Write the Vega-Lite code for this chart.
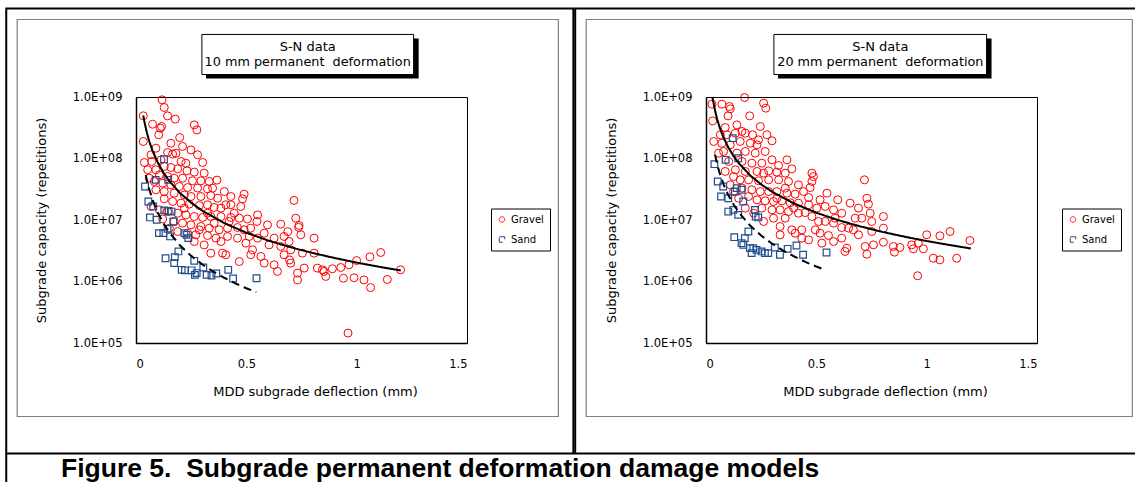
{
"$schema":"https://vega.github.io/schema/vega-lite/v6.json",
"padding":{"left":4,"top":6,"right":0,"bottom":0},
"spacing":-2,
"config":{"font":"DejaVu Sans","view":{"stroke":"black","strokeWidth":1},
"axis":{"labelFont":"DejaVu Sans","labelFontSize":11.5,"labelColor":"black","titleFont":"DejaVu Sans","titleFontSize":13,"titleFontWeight":"normal","titleColor":"black","ticks":false,"tickSize":0,"domainColor":"black","domainWidth":1.5,"gridColor":"#808080","gridDash":[3,2],"gridWidth":1},
"axisX":{"labelPadding":15,"titlePadding":16},
"axisY":{"labelPadding":14,"titlePadding":24},
"legend":{"title":null,"fillColor":"white","strokeColor":"black","padding":6,"labelFont":"DejaVu Sans","labelFontSize":10,"labelColor":"black","symbolSize":30,"symbolStrokeWidth":1,"rowPadding":10,"labelOffset":4}},
"title":{"text":"Figure 5.\u00a0 Subgrade permanent deformation damage models","orient":"bottom","anchor":"start","frame":"group","font":"Liberation Sans","fontSize":26.5,"fontWeight":"bold","color":"black","offset":-8,"baseline":"alphabetic","dx":-75},
"resolve":{"scale":{"color":"independent","shape":"independent","strokeDash":"independent"},"legend":{"color":"independent","shape":"independent","strokeDash":"independent"}},
"datasets":{
"p10":[
{"soil":"Gravel","deflection":0.118,"capacity":9.0e8},{"soil":"Gravel","deflection":0.128,"capacity":6.75e8},{"soil":"Gravel","deflection":0.143,"capacity":4.94e8},{"soil":"Gravel","deflection":0.178,"capacity":4.37e8},{"soil":"Gravel","deflection":0.033,"capacity":4.94e8},{"soil":"Gravel","deflection":0.075,"capacity":3.61e8},{"soil":"Gravel","deflection":0.110,"capacity":3.11e8},{"soil":"Gravel","deflection":0.116,"capacity":3.31e8},{"soil":"Gravel","deflection":0.103,"capacity":2.43e8},{"soil":"Gravel","deflection":0.264,"capacity":3.52e8},
{"soil":"Gravel","deflection":0.276,"capacity":2.92e8},{"soil":"Gravel","deflection":0.198,"capacity":2.19e8},{"soil":"Gravel","deflection":0.033,"capacity":1.89e8},{"soil":"Gravel","deflection":0.090,"capacity":1.47e8},{"soil":"Gravel","deflection":0.249,"capacity":1.38e8},{"soil":"Gravel","deflection":0.181,"capacity":1.22e8},{"soil":"Gravel","deflection":0.166,"capacity":1.18e8},{"soil":"Gravel","deflection":0.143,"capacity":1.25e8},{"soil":"Gravel","deflection":0.279,"capacity":1.15e8},{"soil":"Gravel","deflection":0.068,"capacity":1.15e8},
{"soil":"Gravel","deflection":0.038,"capacity":8.61e7},{"soil":"Gravel","deflection":0.071,"capacity":8.94e7},{"soil":"Gravel","deflection":0.204,"capacity":8.94e7},{"soil":"Gravel","deflection":0.226,"capacity":8.39e7},{"soil":"Gravel","deflection":0.302,"capacity":8.61e7},{"soil":"Gravel","deflection":0.128,"capacity":7.41e7},{"soil":"Gravel","deflection":0.158,"capacity":7.14e7},{"soil":"Gravel","deflection":0.189,"capacity":6.79e7},{"soil":"Gravel","deflection":0.231,"capacity":6.30e7},{"soil":"Gravel","deflection":0.264,"capacity":6.00e7},
{"soil":"Gravel","deflection":0.090,"capacity":6.55e7},{"soil":"Gravel","deflection":0.106,"capacity":5.42e7},{"soil":"Gravel","deflection":0.143,"capacity":5.09e7},{"soil":"Gravel","deflection":0.173,"capacity":4.79e7},{"soil":"Gravel","deflection":0.211,"capacity":4.79e7},{"soil":"Gravel","deflection":0.256,"capacity":4.34e7},{"soil":"Gravel","deflection":0.294,"capacity":4.34e7},{"soil":"Gravel","deflection":0.367,"capacity":4.45e7},{"soil":"Gravel","deflection":0.083,"capacity":4.23e7},{"soil":"Gravel","deflection":0.121,"capacity":3.97e7},
{"soil":"Gravel","deflection":0.158,"capacity":3.73e7},{"soil":"Gravel","deflection":0.196,"capacity":3.51e7},{"soil":"Gravel","deflection":0.234,"capacity":3.37e7},{"soil":"Gravel","deflection":0.279,"capacity":3.30e7},{"soil":"Gravel","deflection":0.324,"capacity":3.21e7},{"soil":"Gravel","deflection":0.090,"capacity":3.10e7},{"soil":"Gravel","deflection":0.128,"capacity":2.90e7},{"soil":"Gravel","deflection":0.173,"capacity":2.73e7},{"soil":"Gravel","deflection":0.219,"capacity":2.56e7},{"soil":"Gravel","deflection":0.249,"capacity":2.41e7},
{"soil":"Gravel","deflection":0.294,"capacity":2.41e7},{"soil":"Gravel","deflection":0.339,"capacity":2.50e7},{"soil":"Gravel","deflection":0.370,"capacity":2.26e7},{"soil":"Gravel","deflection":0.407,"capacity":1.77e7},{"soil":"Gravel","deflection":0.430,"capacity":1.77e7},{"soil":"Gravel","deflection":0.490,"capacity":2.63e7},{"soil":"Gravel","deflection":0.483,"capacity":2.21e7},{"soil":"Gravel","deflection":0.475,"capacity":1.66e7},{"soil":"Gravel","deflection":0.128,"capacity":2.21e7},{"soil":"Gravel","deflection":0.166,"capacity":2.00e7},
{"soil":"Gravel","deflection":0.204,"capacity":1.88e7},{"soil":"Gravel","deflection":0.241,"capacity":1.81e7},{"soil":"Gravel","deflection":0.287,"capacity":1.72e7},{"soil":"Gravel","deflection":0.324,"capacity":1.77e7},{"soil":"Gravel","deflection":0.354,"capacity":1.60e7},{"soil":"Gravel","deflection":0.385,"capacity":1.56e7},{"soil":"Gravel","deflection":0.716,"capacity":2.08e7},{"soil":"Gravel","deflection":0.068,"capacity":1.66e7},{"soil":"Gravel","deflection":0.106,"capacity":1.46e7},{"soil":"Gravel","deflection":0.143,"capacity":1.37e7},
{"soil":"Gravel","deflection":0.189,"capacity":1.29e7},{"soil":"Gravel","deflection":0.226,"capacity":1.21e7},{"soil":"Gravel","deflection":0.264,"capacity":1.14e7},{"soil":"Gravel","deflection":0.302,"capacity":1.10e7},{"soil":"Gravel","deflection":0.339,"capacity":1.14e7},{"soil":"Gravel","deflection":0.385,"capacity":1.14e7},{"soil":"Gravel","deflection":0.430,"capacity":1.10e7},{"soil":"Gravel","deflection":0.468,"capacity":1.07e7},{"soil":"Gravel","deflection":0.505,"capacity":1.04e7},{"soil":"Gravel","deflection":0.551,"capacity":1.21e7},
{"soil":"Gravel","deflection":0.548,"capacity":9.46e6},{"soil":"Gravel","deflection":0.596,"capacity":8.34e6},{"soil":"Gravel","deflection":0.656,"capacity":8.55e6},{"soil":"Gravel","deflection":0.724,"capacity":1.07e7},{"soil":"Gravel","deflection":0.739,"capacity":8.15e6},{"soil":"Gravel","deflection":0.747,"capacity":5.74e6},{"soil":"Gravel","deflection":0.807,"capacity":5.07e6},{"soil":"Gravel","deflection":0.173,"capacity":9.46e6},{"soil":"Gravel","deflection":0.211,"capacity":8.89e6},{"soil":"Gravel","deflection":0.249,"capacity":8.34e6},
{"soil":"Gravel","deflection":0.294,"capacity":7.84e6},{"soil":"Gravel","deflection":0.332,"capacity":7.36e6},{"soil":"Gravel","deflection":0.377,"capacity":6.92e6},{"soil":"Gravel","deflection":0.415,"capacity":7.36e6},{"soil":"Gravel","deflection":0.460,"capacity":7.55e6},{"soil":"Gravel","deflection":0.490,"capacity":6.92e6},{"soil":"Gravel","deflection":0.520,"capacity":7.36e6},{"soil":"Gravel","deflection":0.581,"capacity":6.11e6},{"soil":"Gravel","deflection":0.626,"capacity":5.07e6},{"soil":"Gravel","deflection":0.671,"capacity":5.40e6},
{"soil":"Gravel","deflection":0.694,"capacity":4.47e6},{"soil":"Gravel","deflection":0.189,"capacity":6.50e6},{"soil":"Gravel","deflection":0.234,"capacity":6.11e6},{"soil":"Gravel","deflection":0.271,"capacity":5.74e6},{"soil":"Gravel","deflection":0.324,"capacity":5.60e6},{"soil":"Gravel","deflection":0.362,"capacity":5.07e6},{"soil":"Gravel","deflection":0.415,"capacity":5.40e6},{"soil":"Gravel","deflection":0.460,"capacity":5.07e6},{"soil":"Gravel","deflection":0.513,"capacity":5.40e6},{"soil":"Gravel","deflection":0.551,"capacity":5.07e6},
{"soil":"Gravel","deflection":0.603,"capacity":3.94e6},{"soil":"Gravel","deflection":0.656,"capacity":3.71e6},{"soil":"Gravel","deflection":0.701,"capacity":3.27e6},{"soil":"Gravel","deflection":0.754,"capacity":2.89e6},{"soil":"Gravel","deflection":0.807,"capacity":2.89e6},{"soil":"Gravel","deflection":0.852,"capacity":1.46e6},{"soil":"Gravel","deflection":0.309,"capacity":3.94e6},{"soil":"Gravel","deflection":0.339,"capacity":2.89e6},{"soil":"Gravel","deflection":0.392,"capacity":2.89e6},{"soil":"Gravel","deflection":0.407,"capacity":2.72e6},
{"soil":"Gravel","deflection":0.468,"capacity":2.11e6},{"soil":"Gravel","deflection":0.528,"capacity":3.27e6},{"soil":"Gravel","deflection":0.566,"capacity":2.55e6},{"soil":"Gravel","deflection":0.581,"capacity":1.99e6},{"soil":"Gravel","deflection":0.626,"capacity":1.87e6},{"soil":"Gravel","deflection":0.641,"capacity":1.46e6},{"soil":"Gravel","deflection":0.701,"capacity":1.99e6},{"soil":"Gravel","deflection":0.732,"capacity":1.37e6},{"soil":"Gravel","deflection":0.762,"capacity":1.65e6},{"soil":"Gravel","deflection":0.822,"capacity":1.65e6},
{"soil":"Gravel","deflection":0.860,"capacity":1.21e6},{"soil":"Gravel","deflection":0.732,"capacity":1.06e6},{"soil":"Gravel","deflection":0.890,"capacity":1.61e6},{"soil":"Gravel","deflection":0.928,"capacity":1.69e6},{"soil":"Gravel","deflection":0.965,"capacity":1.87e6},{"soil":"Gravel","deflection":1.000,"capacity":2.19e6},{"soil":"Gravel","deflection":1.060,"capacity":2.52e6},{"soil":"Gravel","deflection":1.109,"capacity":2.96e6},{"soil":"Gravel","deflection":1.199,"capacity":1.55e6},{"soil":"Gravel","deflection":0.940,"capacity":1.13e6},
{"soil":"Gravel","deflection":0.988,"capacity":1.15e6},{"soil":"Gravel","deflection":1.033,"capacity":1.06e6},{"soil":"Gravel","deflection":1.063,"capacity":7.96e5},{"soil":"Gravel","deflection":1.139,"capacity":1.08e6},{"soil":"Gravel","deflection":0.961,"capacity":1.45e5},{"soil":"Gravel","deflection":0.053,"capacity":6.55e7},{"soil":"Gravel","deflection":0.332,"capacity":4.23e7},{"soil":"Gravel","deflection":0.309,"capacity":5.78e7},{"soil":"Gravel","deflection":0.347,"capacity":3.30e7},{"soil":"Gravel","deflection":0.400,"capacity":2.90e7},
{"soil":"Gravel","deflection":0.430,"capacity":2.41e7},{"soil":"Gravel","deflection":0.445,"capacity":1.29e7},{"soil":"Gravel","deflection":0.151,"capacity":7.36e6},{"soil":"Gravel","deflection":0.354,"capacity":8.89e6},{"soil":"Gravel","deflection":0.287,"capacity":6.92e6},{"soil":"Gravel","deflection":0.264,"capacity":4.47e6},{"soil":"Gravel","deflection":0.385,"capacity":4.47e6},{"soil":"Gravel","deflection":0.498,"capacity":4.20e6},{"soil":"Gravel","deflection":0.520,"capacity":2.72e6},{"soil":"Gravel","deflection":0.671,"capacity":2.72e6},
{"soil":"Gravel","deflection":0.121,"capacity":1.04e7},{"soil":"Gravel","deflection":0.219,"capacity":1.56e7},{"soil":"Gravel","deflection":0.158,"capacity":1.77e8},{"soil":"Gravel","deflection":0.211,"capacity":1.57e8},{"soil":"Gravel","deflection":0.113,"capacity":9.5e7},{"soil":"Gravel","deflection":0.060,"capacity":4.79e7},{"soil":"Gravel","deflection":0.324,"capacity":1.29e7},{"soil":"Gravel","deflection":0.422,"capacity":9.46e6},{"soil":"Gravel","deflection":0.845,"capacity":1.55e6},{"soil":"Gravel","deflection":0.696,"capacity":2.24e6},
{"soil":"Gravel","deflection":0.737,"capacity":7.6e6},{"soil":"Gravel","deflection":0.688,"capacity":6.46e6},
{"soil":"Sand","deflection":0.127,"capacity":9.75e7},{"soil":"Sand","deflection":0.089,"capacity":4.50e7},{"soil":"Sand","deflection":0.146,"capacity":4.50e7},{"soil":"Sand","deflection":0.041,"capacity":3.51e7},{"soil":"Sand","deflection":0.056,"capacity":2.00e7},{"soil":"Sand","deflection":0.078,"capacity":1.66e7},{"soil":"Sand","deflection":0.128,"capacity":1.43e7},{"soil":"Sand","deflection":0.161,"capacity":1.37e7},{"soil":"Sand","deflection":0.169,"capacity":9.46e6},{"soil":"Sand","deflection":0.063,"capacity":1.10e7},
{"soil":"Sand","deflection":0.094,"capacity":1.01e7},{"soil":"Sand","deflection":0.104,"capacity":6.11e6},{"soil":"Sand","deflection":0.143,"capacity":7.18e6},{"soil":"Sand","deflection":0.124,"capacity":6.11e6},{"soil":"Sand","deflection":0.154,"capacity":5.40e6},{"soil":"Sand","deflection":0.229,"capacity":5.74e6},{"soil":"Sand","deflection":0.237,"capacity":5.07e6},{"soil":"Sand","deflection":0.219,"capacity":6.11e6},{"soil":"Sand","deflection":0.134,"capacity":2.39e6},{"soil":"Sand","deflection":0.176,"capacity":2.49e6},
{"soil":"Sand","deflection":0.192,"capacity":3.08e6},{"soil":"Sand","deflection":0.173,"capacity":1.99e6},{"soil":"Sand","deflection":0.264,"capacity":2.17e6},{"soil":"Sand","deflection":0.207,"capacity":1.55e6},{"soil":"Sand","deflection":0.222,"capacity":1.52e6},{"soil":"Sand","deflection":0.252,"capacity":1.52e6},{"soil":"Sand","deflection":0.275,"capacity":1.37e6},{"soil":"Sand","deflection":0.305,"capacity":1.69e6},{"soil":"Sand","deflection":0.320,"capacity":1.28e6},{"soil":"Sand","deflection":0.267,"capacity":1.28e6},
{"soil":"Sand","deflection":0.342,"capacity":1.25e6},{"soil":"Sand","deflection":0.418,"capacity":1.55e6},{"soil":"Sand","deflection":0.546,"capacity":1.13e6},{"soil":"Sand","deflection":0.440,"capacity":1.12e6},{"soil":"Sand","deflection":0.364,"capacity":1.35e6},{"soil":"Sand","deflection":0.148,"capacity":1.40e7}
],
"t10":[
{"soil":"Gravel","deflection":0.033,"capacity":5.0e8},{"soil":"Gravel","deflection":0.04,"capacity":3.68e8},{"soil":"Gravel","deflection":0.05,"capacity":2.57e8},{"soil":"Gravel","deflection":0.06,"capacity":1.91e8},{"soil":"Gravel","deflection":0.075,"capacity":1.33e8},{"soil":"Gravel","deflection":0.1,"capacity":8.38e7},{"soil":"Gravel","deflection":0.125,"capacity":5.84e7},{"soil":"Gravel","deflection":0.15,"capacity":4.35e7},{"soil":"Gravel","deflection":0.2,"capacity":2.73e7},{"soil":"Gravel","deflection":0.25,"capacity":1.91e7},{"soil":"Gravel","deflection":0.3,"capacity":1.42e7},{"soil":"Gravel","deflection":0.4,"capacity":8.91e6},{"soil":"Gravel","deflection":0.5,"capacity":6.21e6},{"soil":"Gravel","deflection":0.6,"capacity":4.63e6},{"soil":"Gravel","deflection":0.7,"capacity":3.61e6},{"soil":"Gravel","deflection":0.8,"capacity":2.91e6},{"soil":"Gravel","deflection":0.9,"capacity":2.41e6},{"soil":"Gravel","deflection":1.0,"capacity":2.03e6},{"soil":"Gravel","deflection":1.1,"capacity":1.74e6},{"soil":"Gravel","deflection":1.2,"capacity":1.51e6},
{"soil":"Sand","deflection":0.044,"capacity":5.4e7},{"soil":"Sand","deflection":0.05,"capacity":4.35e7},{"soil":"Sand","deflection":0.06,"capacity":3.16e7},{"soil":"Sand","deflection":0.08,"capacity":1.91e7},{"soil":"Sand","deflection":0.1,"capacity":1.29e7},{"soil":"Sand","deflection":0.125,"capacity":8.77e6},{"soil":"Sand","deflection":0.15,"capacity":6.37e6},{"soil":"Sand","deflection":0.2,"capacity":3.85e6},{"soil":"Sand","deflection":0.25,"capacity":2.61e6},{"soil":"Sand","deflection":0.3,"capacity":1.90e6},{"soil":"Sand","deflection":0.35,"capacity":1.45e6},{"soil":"Sand","deflection":0.4,"capacity":1.15e6},{"soil":"Sand","deflection":0.45,"capacity":9.35e5},{"soil":"Sand","deflection":0.5,"capacity":7.78e5},{"soil":"Sand","deflection":0.545,"capacity":6.7e5}
],
"p20":[
{"soil":"Gravel","deflection":0.175,"capacity":9.8e8},{"soil":"Gravel","deflection":0.027,"capacity":7.64e8},{"soil":"Gravel","deflection":0.072,"capacity":7.64e8},{"soil":"Gravel","deflection":0.106,"capacity":7.01e8},{"soil":"Gravel","deflection":0.110,"capacity":6.42e8},{"soil":"Gravel","deflection":0.261,"capacity":7.94e8},{"soil":"Gravel","deflection":0.271,"capacity":6.58e8},{"soil":"Gravel","deflection":0.100,"capacity":4.94e8},{"soil":"Gravel","deflection":0.198,"capacity":4.94e8},{"soil":"Gravel","deflection":0.030,"capacity":4.09e8},
{"soil":"Gravel","deflection":0.087,"capacity":3.19e8},{"soil":"Gravel","deflection":0.246,"capacity":3.31e8},{"soil":"Gravel","deflection":0.065,"capacity":2.43e8},{"soil":"Gravel","deflection":0.133,"capacity":2.58e8},{"soil":"Gravel","deflection":0.163,"capacity":2.75e8},{"soil":"Gravel","deflection":0.178,"capacity":2.58e8},{"soil":"Gravel","deflection":0.211,"capacity":2.43e8},{"soil":"Gravel","deflection":0.238,"capacity":2.01e8},{"soil":"Gravel","deflection":0.276,"capacity":2.43e8},{"soil":"Gravel","deflection":0.299,"capacity":1.94e8},
{"soil":"Gravel","deflection":0.035,"capacity":1.89e8},{"soil":"Gravel","deflection":0.072,"capacity":1.77e8},{"soil":"Gravel","deflection":0.110,"capacity":1.67e8},{"soil":"Gravel","deflection":0.155,"capacity":1.89e8},{"soil":"Gravel","deflection":0.201,"capacity":1.77e8},{"soil":"Gravel","deflection":0.231,"capacity":1.67e8},{"soil":"Gravel","deflection":0.268,"capacity":1.30e8},{"soil":"Gravel","deflection":0.178,"capacity":1.30e8},{"soil":"Gravel","deflection":0.223,"capacity":1.22e8},{"soil":"Gravel","deflection":0.080,"capacity":1.30e8},
{"soil":"Gravel","deflection":0.140,"capacity":1.22e8},{"soil":"Gravel","deflection":0.299,"capacity":9.51e7},{"soil":"Gravel","deflection":0.367,"capacity":9.51e7},{"soil":"Gravel","deflection":0.103,"capacity":8.94e7},{"soil":"Gravel","deflection":0.163,"capacity":8.94e7},{"soil":"Gravel","deflection":0.208,"capacity":8.39e7},{"soil":"Gravel","deflection":0.253,"capacity":8.39e7},{"soil":"Gravel","deflection":0.329,"capacity":7.69e7},{"soil":"Gravel","deflection":0.389,"capacity":6.79e7},{"soil":"Gravel","deflection":0.133,"capacity":6.55e7},
{"soil":"Gravel","deflection":0.178,"capacity":6.15e7},{"soil":"Gravel","deflection":0.231,"capacity":6.15e7},{"soil":"Gravel","deflection":0.284,"capacity":6.30e7},{"soil":"Gravel","deflection":0.321,"capacity":6.00e7},{"soil":"Gravel","deflection":0.359,"capacity":5.78e7},{"soil":"Gravel","deflection":0.087,"capacity":6.15e7},{"soil":"Gravel","deflection":0.125,"capacity":5.09e7},{"soil":"Gravel","deflection":0.155,"capacity":4.50e7},{"soil":"Gravel","deflection":0.193,"capacity":4.50e7},{"soil":"Gravel","deflection":0.238,"capacity":4.34e7},
{"soil":"Gravel","deflection":0.284,"capacity":4.50e7},{"soil":"Gravel","deflection":0.329,"capacity":4.50e7},{"soil":"Gravel","deflection":0.374,"capacity":4.23e7},{"soil":"Gravel","deflection":0.419,"capacity":3.73e7},{"soil":"Gravel","deflection":0.480,"capacity":5.78e7},{"soil":"Gravel","deflection":0.487,"capacity":5.09e7},{"soil":"Gravel","deflection":0.480,"capacity":4.23e7},{"soil":"Gravel","deflection":0.472,"capacity":3.37e7},{"soil":"Gravel","deflection":0.110,"capacity":3.73e7},{"soil":"Gravel","deflection":0.163,"capacity":3.30e7},
{"soil":"Gravel","deflection":0.208,"capacity":3.10e7},{"soil":"Gravel","deflection":0.246,"capacity":2.90e7},{"soil":"Gravel","deflection":0.284,"capacity":2.90e7},{"soil":"Gravel","deflection":0.321,"capacity":2.90e7},{"soil":"Gravel","deflection":0.367,"capacity":2.73e7},{"soil":"Gravel","deflection":0.404,"capacity":2.63e7},{"soil":"Gravel","deflection":0.442,"capacity":2.90e7},{"soil":"Gravel","deflection":0.465,"capacity":2.32e7},{"soil":"Gravel","deflection":0.517,"capacity":2.13e7},{"soil":"Gravel","deflection":0.548,"capacity":2.73e7},
{"soil":"Gravel","deflection":0.597,"capacity":2.13e7},{"soil":"Gravel","deflection":0.653,"capacity":1.88e7},{"soil":"Gravel","deflection":0.691,"capacity":1.56e7},{"soil":"Gravel","deflection":0.718,"capacity":4.50e7},{"soil":"Gravel","deflection":0.729,"capacity":2.26e7},{"soil":"Gravel","deflection":0.736,"capacity":1.81e7},{"soil":"Gravel","deflection":0.744,"capacity":1.29e7},{"soil":"Gravel","deflection":0.804,"capacity":1.14e7},{"soil":"Gravel","deflection":0.193,"capacity":2.41e7},{"soil":"Gravel","deflection":0.231,"capacity":2.13e7},
{"soil":"Gravel","deflection":0.268,"capacity":2.05e7},{"soil":"Gravel","deflection":0.306,"capacity":2.00e7},{"soil":"Gravel","deflection":0.344,"capacity":2.05e7},{"soil":"Gravel","deflection":0.382,"capacity":1.90e7},{"soil":"Gravel","deflection":0.419,"capacity":1.88e7},{"soil":"Gravel","deflection":0.465,"capacity":1.77e7},{"soil":"Gravel","deflection":0.502,"capacity":1.56e7},{"soil":"Gravel","deflection":0.540,"capacity":1.66e7},{"soil":"Gravel","deflection":0.578,"capacity":1.46e7},{"soil":"Gravel","deflection":0.615,"capacity":1.29e7},
{"soil":"Gravel","deflection":0.676,"capacity":1.07e7},{"soil":"Gravel","deflection":0.706,"capacity":1.07e7},{"soil":"Gravel","deflection":0.751,"capacity":9.46e6},{"soil":"Gravel","deflection":0.804,"capacity":7.36e6},{"soil":"Gravel","deflection":0.253,"capacity":1.56e7},{"soil":"Gravel","deflection":0.299,"capacity":1.46e7},{"soil":"Gravel","deflection":0.336,"capacity":1.46e7},{"soil":"Gravel","deflection":0.374,"capacity":1.37e7},{"soil":"Gravel","deflection":0.419,"capacity":1.29e7},{"soil":"Gravel","deflection":0.449,"capacity":1.32e7},
{"soil":"Gravel","deflection":0.480,"capacity":1.14e7},{"soil":"Gravel","deflection":0.510,"capacity":9.46e6},{"soil":"Gravel","deflection":0.540,"capacity":9.46e6},{"soil":"Gravel","deflection":0.578,"capacity":8.89e6},{"soil":"Gravel","deflection":0.615,"capacity":7.55e6},{"soil":"Gravel","deflection":0.646,"capacity":7.36e6},{"soil":"Gravel","deflection":0.691,"capacity":5.74e6},{"soil":"Gravel","deflection":0.721,"capacity":3.71e6},{"soil":"Gravel","deflection":0.759,"capacity":3.94e6},{"soil":"Gravel","deflection":0.804,"capacity":4.36e6},
{"soil":"Gravel","deflection":0.849,"capacity":3.71e6},{"soil":"Gravel","deflection":0.854,"capacity":3.00e6},{"soil":"Gravel","deflection":0.879,"capacity":3.57e6},{"soil":"Gravel","deflection":0.261,"capacity":9.46e6},{"soil":"Gravel","deflection":0.336,"capacity":7.84e6},{"soil":"Gravel","deflection":0.359,"capacity":1.07e7},{"soil":"Gravel","deflection":0.389,"capacity":6.92e6},{"soil":"Gravel","deflection":0.404,"capacity":6.11e6},{"soil":"Gravel","deflection":0.434,"capacity":6.92e6},{"soil":"Gravel","deflection":0.465,"capacity":4.76e6},
{"soil":"Gravel","deflection":0.517,"capacity":6.11e6},{"soil":"Gravel","deflection":0.555,"capacity":5.60e6},{"soil":"Gravel","deflection":0.578,"capacity":4.47e6},{"soil":"Gravel","deflection":0.615,"capacity":5.07e6},{"soil":"Gravel","deflection":0.638,"capacity":3.48e6},{"soil":"Gravel","deflection":0.668,"capacity":6.92e6},{"soil":"Gravel","deflection":0.751,"capacity":6.50e6},{"soil":"Gravel","deflection":0.729,"capacity":2.78e6},{"soil":"Gravel","deflection":0.932,"capacity":3.94e6},{"soil":"Gravel","deflection":0.962,"capacity":4.20e6},
{"soil":"Gravel","deflection":0.940,"capacity":3.40e6},{"soil":"Gravel","deflection":0.985,"capacity":3.40e6},{"soil":"Gravel","deflection":1.000,"capacity":5.74e6},{"soil":"Gravel","deflection":1.060,"capacity":5.53e6},{"soil":"Gravel","deflection":1.106,"capacity":6.50e6},{"soil":"Gravel","deflection":1.196,"capacity":4.64e6},{"soil":"Gravel","deflection":1.030,"capacity":2.39e6},{"soil":"Gravel","deflection":1.060,"capacity":2.25e6},{"soil":"Gravel","deflection":1.136,"capacity":2.39e6},{"soil":"Gravel","deflection":0.959,"capacity":1.24e6},
{"soil":"Gravel","deflection":0.057,"capacity":1.22e8},{"soil":"Gravel","deflection":0.095,"capacity":2.43e8},{"soil":"Gravel","deflection":0.140,"capacity":3.52e8},{"soil":"Gravel","deflection":0.261,"capacity":5.78e7},{"soil":"Gravel","deflection":0.148,"capacity":2.26e7},{"soil":"Gravel","deflection":0.125,"capacity":2.90e7},{"soil":"Gravel","deflection":0.178,"capacity":1.56e7},{"soil":"Gravel","deflection":0.216,"capacity":1.29e7},{"soil":"Gravel","deflection":0.306,"capacity":1.07e7},{"soil":"Gravel","deflection":0.495,"capacity":6.92e6},
{"soil":"Gravel","deflection":0.525,"capacity":4.20e6},{"soil":"Gravel","deflection":0.434,"capacity":5.07e6},{"soil":"Gravel","deflection":0.336,"capacity":5.74e6},{"soil":"Gravel","deflection":0.359,"capacity":3.30e7},{"soil":"Gravel","deflection":0.321,"capacity":2.26e7},{"soil":"Gravel","deflection":0.397,"capacity":1.56e7},{"soil":"Gravel","deflection":0.585,"capacity":1.07e7},{"soil":"Gravel","deflection":0.630,"capacity":3.08e6},
{"soil":"Sand","deflection":0.121,"capacity":2.14e8},{"soil":"Sand","deflection":0.089,"capacity":9.51e7},{"soil":"Sand","deflection":0.146,"capacity":1.01e8},{"soil":"Sand","deflection":0.038,"capacity":8.09e7},{"soil":"Sand","deflection":0.053,"capacity":4.23e7},{"soil":"Sand","deflection":0.078,"capacity":3.51e7},{"soil":"Sand","deflection":0.068,"capacity":2.41e7},{"soil":"Sand","deflection":0.101,"capacity":2.26e7},{"soil":"Sand","deflection":0.131,"capacity":2.90e7},{"soil":"Sand","deflection":0.139,"capacity":3.30e7},
{"soil":"Sand","deflection":0.161,"capacity":3.10e7},{"soil":"Sand","deflection":0.169,"capacity":2.00e7},{"soil":"Sand","deflection":0.101,"capacity":1.37e7},{"soil":"Sand","deflection":0.124,"capacity":1.46e7},{"soil":"Sand","deflection":0.146,"capacity":1.21e7},{"soil":"Sand","deflection":0.222,"capacity":1.46e7},{"soil":"Sand","deflection":0.225,"capacity":1.14e7},{"soil":"Sand","deflection":0.237,"capacity":1.10e7},{"soil":"Sand","deflection":0.128,"capacity":5.26e6},{"soil":"Sand","deflection":0.176,"capacity":5.07e6},
{"soil":"Sand","deflection":0.192,"capacity":6.50e6},{"soil":"Sand","deflection":0.161,"capacity":4.20e6},{"soil":"Sand","deflection":0.199,"capacity":3.48e6},{"soil":"Sand","deflection":0.214,"capacity":3.48e6},{"soil":"Sand","deflection":0.229,"capacity":3.27e6},{"soil":"Sand","deflection":0.252,"capacity":3.08e6},{"soil":"Sand","deflection":0.267,"capacity":2.89e6},{"soil":"Sand","deflection":0.312,"capacity":3.57e6},{"soil":"Sand","deflection":0.335,"capacity":2.72e6},{"soil":"Sand","deflection":0.282,"capacity":2.89e6},
{"soil":"Sand","deflection":0.370,"capacity":3.40e6},{"soil":"Sand","deflection":0.410,"capacity":3.85e6},{"soil":"Sand","deflection":0.440,"capacity":2.72e6},{"soil":"Sand","deflection":0.546,"capacity":2.96e6},{"soil":"Sand","deflection":0.169,"capacity":3.94e6},{"soil":"Sand","deflection":0.207,"capacity":2.89e6}
],
"t20":[
{"soil":"Gravel","deflection":0.029,"capacity":1.0e9},{"soil":"Gravel","deflection":0.04,"capacity":6.24e8},{"soil":"Gravel","deflection":0.05,"capacity":4.44e8},{"soil":"Gravel","deflection":0.06,"capacity":3.36e8},{"soil":"Gravel","deflection":0.075,"capacity":2.39e8},{"soil":"Gravel","deflection":0.1,"capacity":1.54e8},{"soil":"Gravel","deflection":0.125,"capacity":1.09e8},{"soil":"Gravel","deflection":0.15,"capacity":8.28e7},{"soil":"Gravel","deflection":0.2,"capacity":5.33e7},{"soil":"Gravel","deflection":0.25,"capacity":3.79e7},{"soil":"Gravel","deflection":0.3,"capacity":2.87e7},{"soil":"Gravel","deflection":0.4,"capacity":1.85e7},{"soil":"Gravel","deflection":0.5,"capacity":1.31e7},{"soil":"Gravel","deflection":0.6,"capacity":9.93e6},{"soil":"Gravel","deflection":0.7,"capacity":7.85e6},{"soil":"Gravel","deflection":0.8,"capacity":6.40e6},{"soil":"Gravel","deflection":0.9,"capacity":5.35e6},{"soil":"Gravel","deflection":1.0,"capacity":4.55e6},{"soil":"Gravel","deflection":1.1,"capacity":3.94e6},{"soil":"Gravel","deflection":1.2,"capacity":3.44e6},
{"soil":"Sand","deflection":0.041,"capacity":1.15e8},{"soil":"Sand","deflection":0.05,"capacity":8.26e7},{"soil":"Sand","deflection":0.06,"capacity":6.09e7},{"soil":"Sand","deflection":0.08,"capacity":3.76e7},{"soil":"Sand","deflection":0.1,"capacity":2.59e7},{"soil":"Sand","deflection":0.125,"capacity":1.78e7},{"soil":"Sand","deflection":0.15,"capacity":1.31e7},{"soil":"Sand","deflection":0.2,"capacity":8.11e6},{"soil":"Sand","deflection":0.25,"capacity":5.58e6},{"soil":"Sand","deflection":0.3,"capacity":4.12e6},{"soil":"Sand","deflection":0.35,"capacity":3.18e6},{"soil":"Sand","deflection":0.4,"capacity":2.55e6},{"soil":"Sand","deflection":0.45,"capacity":2.09e6},{"soil":"Sand","deflection":0.5,"capacity":1.75e6},{"soil":"Sand","deflection":0.538,"capacity":1.55e6}
]
},
"hconcat":[
{"width":331,"height":246,
"layer":[
{"data":{"values":[{}]},"mark":{"type":"rect","filled":false,"stroke":"black","strokeWidth":2},"encoding":{"x":{"datum":-0.588},"x2":{"datum":1.982},"y":{"datum":2.75e10},"y2":{"datum":1600}}},
{"data":{"values":[{}]},"mark":{"type":"rule","stroke":"black","strokeWidth":2},"encoding":{"x":{"datum":-0.588},"y":{"datum":1600},"y2":{"datum":519}}},
{"data":{"values":[{}]},"mark":{"type":"rect","filled":false,"stroke":"#7f7f7f","strokeWidth":1.2},"encoding":{"x":{"datum":-0.5385},"x2":{"datum":1.914},"y":{"datum":1.82e10},"y2":{"datum":6380}}},
{"data":{"values":[{}]},"mark":{"type":"rect","fill":"black"},"encoding":{"x":{"datum":0.317},"x2":{"datum":1.281},"y":{"datum":8.93e9},"y2":{"datum":2.0e9}}},
{"data":{"values":[{}]},"mark":{"type":"rect","fill":"white","stroke":"black","strokeWidth":1},"encoding":{"x":{"datum":0.2986},"x2":{"datum":1.258},"y":{"datum":1.04e10},"y2":{"datum":2.32e9}}},
{"data":{"values":[{}]},"mark":{"type":"text","fontSize":13,"baseline":"middle","align":"center","color":"black"},"encoding":{"x":{"datum":0.778},"y":{"datum":6.62e9},"text":{"value":"S-N data"}}},
{"data":{"values":[{}]},"mark":{"type":"text","fontSize":12.8,"baseline":"middle","align":"center","color":"black"},"encoding":{"x":{"datum":0.778},"y":{"datum":3.64e9},"text":{"value":"10 mm permanent\u00a0 deformation"}}},
{"data":{"name":"p10"},"transform":[{"filter":"datum.soil === 'Gravel'"}],"mark":{"type":"point","filled":false,"size":64,"strokeWidth":1,"opacity":1},
"encoding":{"x":{"field":"deflection","type":"quantitative","title":"MDD subgrade deflection (mm)","scale":{"domain":[0,1.5],"nice":false},"axis":{"values":[0,0.5,1,1.5],"format":"~g","titleX":179}},
"y":{"field":"capacity","type":"quantitative","title":"Subgrade capacity (repetitions)","scale":{"type":"log","domain":[100000,1000000000],"nice":false},"axis":{"values":[100000,1000000,10000000,100000000,1000000000],"labelExpr":"'1.0E+0' + round(log(datum.value)/LN10)"}},
"color":{"field":"soil","type":"nominal","scale":{"domain":["Gravel","Sand"],"range":["#FF0000","#1F4E8C"]},"legend":{"orient":"none","legendX":355,"legendY":111.5,"direction":"vertical"}},
"shape":{"field":"soil","type":"nominal","scale":{"domain":["Gravel","Sand"],"range":["circle","square"]},"legend":{"orient":"none","legendX":355,"legendY":111.5,"direction":"vertical"}}}},
{"data":{"name":"p10"},"transform":[{"filter":"datum.soil === 'Sand'"}],"mark":{"type":"point","filled":false,"size":44,"strokeWidth":1.2,"opacity":1},
"encoding":{"x":{"field":"deflection","type":"quantitative"},"y":{"field":"capacity","type":"quantitative"},
"color":{"field":"soil","type":"nominal"},"shape":{"field":"soil","type":"nominal"}}},
{"data":{"name":"t10"},"mark":{"type":"line","color":"black","strokeWidth":2},"encoding":{"x":{"field":"deflection","type":"quantitative"},"y":{"field":"capacity","type":"quantitative"},"detail":{"field":"soil","type":"nominal"},"strokeDash":{"field":"soil","type":"nominal","scale":{"domain":["Gravel","Sand"],"range":[[1,0],[8,5]]},"legend":null}}}
]},
{"width":331,"height":246,
"layer":[
{"data":{"values":[{}]},"mark":{"type":"rect","filled":false,"stroke":"black","strokeWidth":2},"encoding":{"x":{"datum":-0.5928},"x2":{"datum":1.973},"y":{"datum":2.75e10},"y2":{"datum":1600}}},
{"data":{"values":[{}]},"mark":{"type":"rect","filled":false,"stroke":"#7f7f7f","strokeWidth":1.2},"encoding":{"x":{"datum":-0.543},"x2":{"datum":1.932},"y":{"datum":1.82e10},"y2":{"datum":6380}}},
{"data":{"values":[{}]},"mark":{"type":"rect","fill":"black"},"encoding":{"x":{"datum":0.326},"x2":{"datum":1.294},"y":{"datum":8.93e9},"y2":{"datum":2.0e9}}},
{"data":{"values":[{}]},"mark":{"type":"rect","fill":"white","stroke":"black","strokeWidth":1},"encoding":{"x":{"datum":0.3077},"x2":{"datum":1.2715},"y":{"datum":1.04e10},"y2":{"datum":2.32e9}}},
{"data":{"values":[{}]},"mark":{"type":"text","fontSize":13,"baseline":"middle","align":"center","color":"black"},"encoding":{"x":{"datum":0.79},"y":{"datum":6.62e9},"text":{"value":"S-N data"}}},
{"data":{"values":[{}]},"mark":{"type":"text","fontSize":12.8,"baseline":"middle","align":"center","color":"black"},"encoding":{"x":{"datum":0.79},"y":{"datum":3.64e9},"text":{"value":"20 mm permanent\u00a0 deformation"}}},
{"data":{"name":"p20"},"transform":[{"filter":"datum.soil === 'Gravel'"}],"mark":{"type":"point","filled":false,"size":64,"strokeWidth":1,"opacity":1},
"encoding":{"x":{"field":"deflection","type":"quantitative","title":"MDD subgrade deflection (mm)","scale":{"domain":[0,1.5],"nice":false},"axis":{"values":[0,0.5,1,1.5],"format":"~g","titleX":179}},
"y":{"field":"capacity","type":"quantitative","title":"Subgrade capacity (repetitions)","scale":{"type":"log","domain":[100000,1000000000],"nice":false},"axis":{"values":[100000,1000000,10000000,100000000,1000000000],"labelExpr":"'1.0E+0' + round(log(datum.value)/LN10)"}},
"color":{"field":"soil","type":"nominal","scale":{"domain":["Gravel","Sand"],"range":["#FF0000","#1F4E8C"]},"legend":{"orient":"none","legendX":356,"legendY":111.5,"direction":"vertical"}},
"shape":{"field":"soil","type":"nominal","scale":{"domain":["Gravel","Sand"],"range":["circle","square"]},"legend":{"orient":"none","legendX":356,"legendY":111.5,"direction":"vertical"}}}},
{"data":{"name":"p20"},"transform":[{"filter":"datum.soil === 'Sand'"}],"mark":{"type":"point","filled":false,"size":44,"strokeWidth":1.2,"opacity":1},
"encoding":{"x":{"field":"deflection","type":"quantitative"},"y":{"field":"capacity","type":"quantitative"},
"color":{"field":"soil","type":"nominal"},"shape":{"field":"soil","type":"nominal"}}},
{"data":{"name":"t20"},"mark":{"type":"line","color":"black","strokeWidth":2},"encoding":{"x":{"field":"deflection","type":"quantitative"},"y":{"field":"capacity","type":"quantitative"},"detail":{"field":"soil","type":"nominal"},"strokeDash":{"field":"soil","type":"nominal","scale":{"domain":["Gravel","Sand"],"range":[[1,0],[8,5]]},"legend":null}}}
]}
]
}
